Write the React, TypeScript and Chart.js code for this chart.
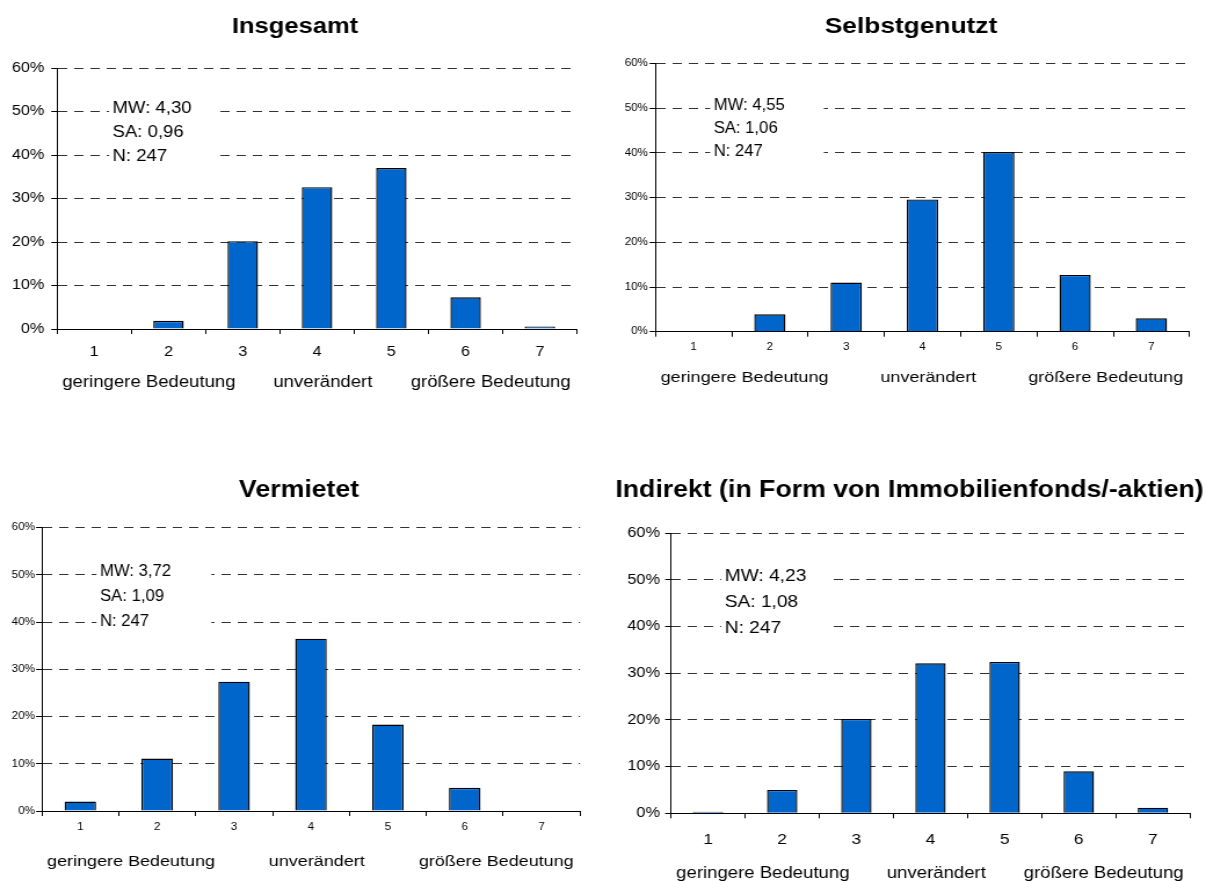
import React, { useEffect, useRef } from 'react';
import { Chart, registerables } from 'chart.js';

Chart.register(...registerables);

// ---------- data ----------
const categories = ['1', '2', '3', '4', '5', '6', '7'];
const yTickLabels = ['0%', '10%', '20%', '30%', '40%', '50%', '60%'];
const scaleLabels = ['geringere Bedeutung', 'unverändert', 'größere Bedeutung'];

const titleInsgesamt = 'Insgesamt';
const titleSelbstgenutzt = 'Selbstgenutzt';
const titleVermietet = 'Vermietet';
const titleIndirekt = 'Indirekt (in Form von Immobilienfonds/-aktien)';

const insgesamtValues = [0, 1.9, 20.2, 32.6, 37.0, 7.3, 0.6];
const selbstgenutztValues = [0, 3.9, 11.0, 29.6, 40.2, 12.7, 3.0];
const vermietetValues = [2.0, 11.1, 27.4, 36.5, 18.3, 4.9, 0];
const indirektValues = [0.35, 5.0, 20.2, 32.1, 32.4, 9.0, 1.2];

const statsInsgesamt = ['MW: 4,30', 'SA: 0,96', 'N: 247'];
const statsSelbstgenutzt = ['MW: 4,55', 'SA: 1,06', 'N: 247'];
const statsVermietet = ['MW: 3,72', 'SA: 1,09', 'N: 247'];
const statsIndirekt = ['MW: 4,23', 'SA: 1,08', 'N: 247'];

// ---------- styles ----------
const FONT = "'Liberation Sans', Arial, Helvetica, sans-serif";
const BAR_FILL = '#0066CC';
const BAR_EDGE = '#000000';
const GRID = '#333333';
const INNER_W = 520;
const CSS_W = 603;

type Spec = {
  title: string;
  values: number[];
  stats: string[];
  left: number;
  top: number;
  height: number;
  yWidth: number;
  padRight: number;
  padTop: number;
  xHeight: number;
  titleX: number;
  titleY: number;
  titleSize: number;
  yTickSize: number;
  yTickPad: number;
  xTickSize: number;
  xTickPad: number;
  statsDx: number;
  statsSize: number;
  statsSx: number;
  statsLine: number;
  boxW: number;
  labelSize: number;
  labelDy: number;
};

const panels: Spec[] = [
  {
    title: titleInsgesamt, values: insgesamtValues, stats: statsInsgesamt,
    left: 0, top: 0, height: 430,
    yWidth: 49.2, padRight: 22.4, padTop: 68, xHeight: 101,
    titleX: 254.4, titleY: 33, titleSize: 22,
    yTickSize: 14, yTickPad: 6, xTickSize: 14, xTickPad: 10,
    statsDx: 47.8, statsSize: 16, statsSx: 1, statsLine: 24, boxW: 92,
    labelSize: 16, labelDy: 54,
  },
  {
    title: titleSelbstgenutzt, values: selbstgenutztValues, stats: statsSelbstgenutzt,
    left: 603, top: 0, height: 430,
    yWidth: 45.2, padRight: 14.2, padTop: 63.5, xHeight: 98.3,
    titleX: 265.6, titleY: 33.3, titleSize: 22.7,
    yTickSize: 10, yTickPad: 1.5, xTickSize: 10, xTickPad: 4.3,
    statsDx: 50.2, statsSize: 16, statsSx: 0.9, statsLine: 23.2, boxW: 98,
    labelSize: 15.5, labelDy: 46.3,
  },
  {
    title: titleVermietet, values: vermietetValues, stats: statsVermietet,
    left: 0, top: 430, height: 451,
    yWidth: 36.1, padRight: 19.8, padTop: 97.7, xHeight: 70,
    titleX: 257.9, titleY: 66.7, titleSize: 23,
    yTickSize: 10, yTickPad: 1, xTickSize: 10, xTickPad: 5.7,
    statsDx: 50.1, statsSize: 16, statsSx: 0.9, statsLine: 25, boxW: 99,
    labelSize: 15.5, labelDy: 50.7,
  },
  {
    title: titleIndirekt, values: indirektValues, stats: statsIndirekt,
    left: 603, top: 430, height: 451,
    yWidth: 58.6, padRight: 13.8, padTop: 103, xHeight: 67.7,
    titleX: 264.3, titleY: 66.7, titleSize: 23,
    yTickSize: 14, yTickPad: 4.5, xTickSize: 15, xTickPad: 13,
    statsDx: 46.4, statsSize: 16.5, statsSx: 1, statsLine: 25.8, boxW: 93,
    labelSize: 16, labelDy: 60,
  },
];

function Panel({ spec }: { spec: Spec }) {
  const ref = useRef<HTMLCanvasElement>(null);

  useEffect(() => {
    const canvas = ref.current;
    if (!canvas) return;

    const textPlugin = {
      id: 'panelText',
      beforeDatasetsDraw(chart: any) {
        const { ctx, chartArea, scales } = chart;
        const y = scales.y;
        const textLeft = chartArea.left + spec.statsDx;
        const c50 = y.getPixelForValue(50) - 3;
        const boxTop = c50 - 14;
        const boxBottom = c50 + spec.statsLine * 2 + 14;
        ctx.save();
        ctx.fillStyle = '#ffffff';
        ctx.fillRect(textLeft - 3, boxTop, spec.boxW, boxBottom - boxTop);
        ctx.fillStyle = '#000000';
        ctx.font = `${spec.statsSize}px ${FONT}`;
        ctx.textBaseline = 'middle';
        ctx.textAlign = 'left';
        spec.stats.forEach((t, i) => {
          ctx.save();
          ctx.translate(textLeft, c50 + i * spec.statsLine);
          ctx.scale(spec.statsSx, 1);
          ctx.fillText(t, 0, 0);
          ctx.restore();
        });
        ctx.restore();
      },
      afterDraw(chart: any) {
        const { ctx, chartArea, scales } = chart;
        const x = scales.x;
        ctx.save();
        ctx.fillStyle = '#000000';
        ctx.font = `bold ${spec.titleSize}px ${FONT}`;
        ctx.textAlign = 'center';
        ctx.textBaseline = 'alphabetic';
        ctx.fillText(spec.title, spec.titleX, spec.titleY);

        ctx.font = `${spec.labelSize}px ${FONT}`;
        ctx.textBaseline = 'middle';
        const ly = chartArea.bottom + spec.labelDy;
        ctx.textAlign = 'left';
        ctx.fillText(scaleLabels[0], chartArea.left + 4.5, ly);
        ctx.textAlign = 'center';
        ctx.fillText(scaleLabels[1], x.getPixelForValue(3) + 5, ly);
        ctx.textAlign = 'right';
        ctx.fillText(scaleLabels[2], chartArea.right - 5.5, ly);
        ctx.restore();
      },
    };

    const chart = new Chart(canvas, {
      type: 'bar',
      data: {
        labels: categories,
        datasets: [
          {
            data: spec.values,
            backgroundColor: BAR_FILL,
            borderColor: BAR_EDGE,
            borderWidth: 1.4,
            categoryPercentage: 1,
            barPercentage: 0.41,
          },
        ],
      },
      options: {
        responsive: false,
        animation: false,
        devicePixelRatio: 1,
        layout: { padding: { left: 0, right: spec.padRight, top: spec.padTop, bottom: 0 } },
        plugins: {
          legend: { display: false },
          title: { display: false },
          tooltip: { enabled: false },
        },
        scales: {
          x: {
            offset: true,
            grid: {
              display: true,
              offset: true,
              drawOnChartArea: false,
              drawTicks: true,
              tickLength: 5,
              tickColor: '#000000',
              tickWidth: 1,
            },
            border: { display: true, color: '#000000', width: 1 },
            ticks: {
              font: { family: FONT, size: spec.xTickSize },
              color: '#000000',
              padding: spec.xTickPad,
              maxRotation: 0,
              autoSkip: false,
            },
            afterFit: (s: any) => {
              s.height = spec.xHeight;
            },
          },
          y: {
            min: 0,
            max: 60,
            grid: {
              color: GRID,
              lineWidth: 1,
              drawTicks: true,
              tickLength: 5,
              tickColor: '#000000',
              tickWidth: 1,
            },
            border: { display: true, color: '#000000', width: 1, dash: [8, 6] },
            ticks: {
              stepSize: 10,
              font: { family: FONT, size: spec.yTickSize },
              color: '#000000',
              padding: spec.yTickPad,
              callback: (v: any) => yTickLabels[Math.round(Number(v) / 10)] ?? `${v}%`,
            },
            afterFit: (s: any) => {
              s.width = spec.yWidth;
            },
          },
        },
      },
      plugins: [textPlugin],
    } as any);

    return () => {
      chart.destroy();
    };
  }, [spec]);

  return (
    <canvas
      ref={ref}
      width={INNER_W}
      height={spec.height}
      style={{
        position: 'absolute',
        left: spec.left,
        top: spec.top,
        width: CSS_W,
        height: spec.height,
      }}
    />
  );
}

export default function App() {
  return (
    <div
      style={{
        position: 'absolute',
        left: 0,
        top: 0,
        width: 1206,
        height: 881,
        background: '#ffffff',
        overflow: 'hidden',
      }}
    >
      {panels.map((p, i) => (
        <Panel key={i} spec={p} />
      ))}
    </div>
  );
}
